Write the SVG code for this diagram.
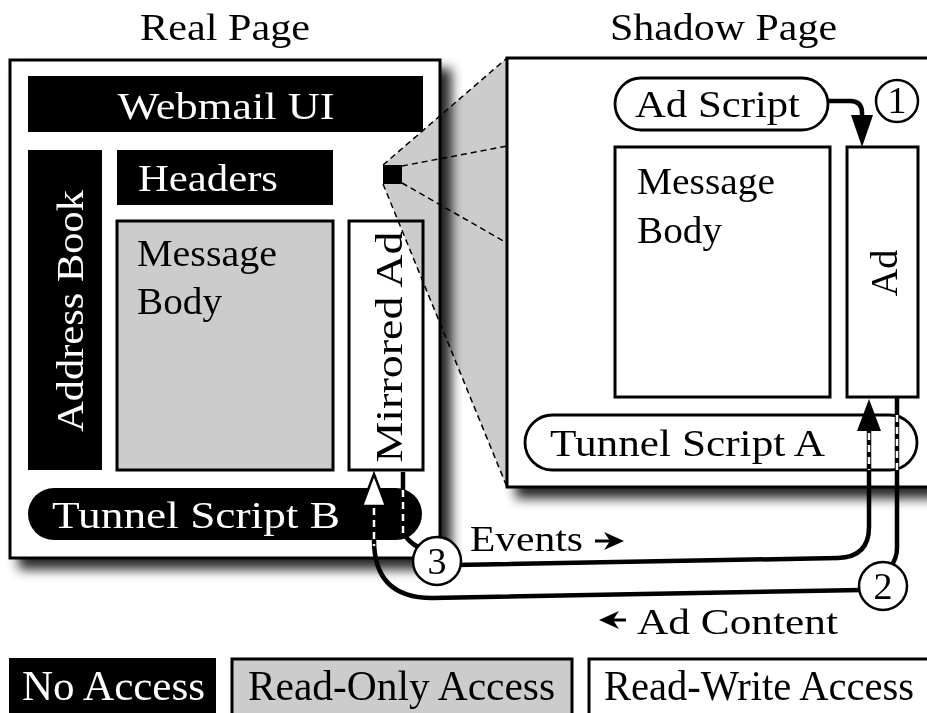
<svg xmlns="http://www.w3.org/2000/svg" width="927" height="713" viewBox="0 0 927 713">
<defs>
<style>
text { font-family: "Liberation Serif", "Times New Roman", serif; fill: #000; }
.lbl { font-size: 38px; }
.t { font-size: 38px; }
.wt { fill: #fff; }
.blk { fill: #000; }
.gry { fill: #cccccc; stroke: #000; stroke-width: 3; }
.wht { fill: #fff; stroke: #000; stroke-width: 3; }
.pill { fill: #fff; stroke: #000; stroke-width: 2.8; }
.conn { fill: none; stroke: #000; stroke-width: 4.5; }
.dash { fill: none; stroke: #fff; stroke-width: 2.5; stroke-dasharray: 7 5; }
.cone { fill: none; stroke: #000; stroke-width: 1.5; stroke-dasharray: 6 4; }
.num { font-size: 38px; text-anchor: middle; }
.circ { fill: #fff; stroke: #000; stroke-width: 2.5; }
.leg { font-size: 43px; }
.small { font-size: 36px; }
</style>
<filter id="sh" x="-5%" y="-5%" width="120%" height="120%">
<feGaussianBlur in="SourceAlpha" stdDeviation="6"/>
<feOffset dx="10" dy="10"/>
<feComponentTransfer><feFuncA type="linear" slope="0.85"/></feComponentTransfer>
<feMerge><feMergeNode/><feMergeNode in="SourceGraphic"/></feMerge>
</filter>
</defs>
<rect x="0" y="0" width="927" height="713" fill="#fff"/>

<text class="t" x="140" y="40" textLength="170" lengthAdjust="spacingAndGlyphs">Real Page</text>
<text class="t" x="610" y="40" textLength="227" lengthAdjust="spacingAndGlyphs">Shadow Page</text>

<g id="shadow-page">
<rect class="wht" x="507" y="58" width="440" height="429" filter="url(#sh)"/>
</g>
<g id="ad-script">
<rect class="pill" x="615" y="78" width="213" height="52" rx="26"/>
<text class="lbl" x="635" y="117" textLength="165" lengthAdjust="spacingAndGlyphs">Ad Script</text>
</g>
<g id="shadow-message-body">
<rect class="wht" x="615" y="147" width="215" height="250"/>
<text class="lbl" x="637" y="194" textLength="138" lengthAdjust="spacingAndGlyphs">Message</text>
<text class="lbl" x="637" y="243" textLength="85" lengthAdjust="spacingAndGlyphs">Body</text>
</g>
<g id="ad">
<rect class="wht" x="847" y="147" width="71" height="250"/>
<text class="lbl" transform="translate(897,273) rotate(-90)" text-anchor="middle">Ad</text>
</g>
<g id="tunnel-script-a">
<rect class="pill" x="525" y="415" width="392" height="55" rx="27.5"/>
<text class="lbl" x="550" y="456" textLength="275" lengthAdjust="spacingAndGlyphs">Tunnel Script A</text>
</g>

<g id="real-page">
<rect class="wht" x="10" y="60" width="430" height="498" filter="url(#sh)"/>
</g>
<g id="webmail-ui">
<rect class="blk" x="28" y="76" width="395" height="56"/>
<text class="lbl wt" x="226" y="119" text-anchor="middle" textLength="217" lengthAdjust="spacingAndGlyphs">Webmail UI</text>
</g>
<g id="address-book">
<rect class="blk" x="28" y="150" width="74" height="320"/>
<text class="lbl wt" transform="translate(83,311) rotate(-90)" text-anchor="middle" textLength="242" lengthAdjust="spacingAndGlyphs">Address Book</text>
</g>
<g id="headers">
<rect class="blk" x="117" y="150" width="216" height="55"/>
<text class="lbl wt" x="138" y="191" textLength="140" lengthAdjust="spacingAndGlyphs">Headers</text>
</g>
<g id="real-message-body">
<rect class="gry" x="117" y="221" width="216" height="249"/>
<text class="lbl" x="137" y="266" textLength="140" lengthAdjust="spacingAndGlyphs">Message</text>
<text class="lbl" x="137" y="314" textLength="85" lengthAdjust="spacingAndGlyphs">Body</text>
</g>
<g id="mirrored-ad">
<rect class="wht" x="349" y="221" width="74" height="249"/>
<text class="lbl" transform="translate(402,347) rotate(-90)" text-anchor="middle" textLength="231" lengthAdjust="spacingAndGlyphs">Mirrored Ad</text>
</g>
<g id="tunnel-script-b">
<rect class="blk" x="28" y="488" width="394" height="52" rx="26"/>
<text class="lbl wt" x="52" y="528" textLength="288" lengthAdjust="spacingAndGlyphs">Tunnel Script B</text>
</g>

<g id="zoom-cone">
<polygon points="383,165 507,58 507,487 383,184" fill="#cccccc" style="mix-blend-mode:multiply"/>
<path class="cone" d="M383 165 L507 58 M383 184 L507 487 M402 166 L507 146 M402 183 L507 243"/>
<rect class="blk" x="383" y="165" width="19" height="19"/>
</g>

<g id="connectors">
<path class="conn" d="M828 101 L850 101 Q862 101 862 113 L862 120"/>
<polygon points="862,147 851,115 873,115" fill="#000"/>
<path class="conn" d="M403 472 L403 528 Q404 540 420 548"/>
<path class="conn" d="M455 565 L838 558 Q869 557 869 527 L869 428"/>
<polygon points="869,399 857,431 881,431" fill="#000"/>
<path class="conn" d="M897 397 L897 548 Q897 558 891 566"/>
<path class="conn" d="M862 590 L432 598 Q374 598 374 540 L374 503"/>
<polygon points="374,474 362,506 386,506" fill="#fff" stroke="#000" stroke-width="2.5"/>
<path class="dash" d="M374 508 L374 546"/>
<path class="dash" d="M403 490 L403 538"/>
<path class="dash" d="M869 433 L869 470"/>
<path class="dash" d="M897 415 L897 470"/>
<path d="M595 541 L612 541" stroke="#000" stroke-width="3"/>
<polygon points="624,541 604,532 610,541 604,550" fill="#000"/>
<path d="M626 620 L610 620" stroke="#000" stroke-width="3"/>
<polygon points="599,620 619,611 613,620 619,629" fill="#000"/>
</g>

<g id="step-1">
<circle class="circ" cx="897" cy="101" r="21"/>
<text class="num" x="897" y="113">1</text>
</g>
<g id="step-2">
<circle class="circ" cx="883" cy="586" r="24"/>
<text class="num" x="883" y="599">2</text>
</g>
<g id="step-3">
<circle class="circ" cx="437" cy="561" r="24"/>
<text class="num" x="437" y="574">3</text>
</g>

<text class="small" x="470" y="551" textLength="113" lengthAdjust="spacingAndGlyphs">Events</text>
<text class="small" x="637" y="634" textLength="201" lengthAdjust="spacingAndGlyphs">Ad Content</text>

<g id="legend-no-access">
<rect class="blk" x="9" y="658" width="207" height="70"/>
<text class="leg wt" x="22" y="700" textLength="183" lengthAdjust="spacingAndGlyphs">No Access</text>
</g>
<g id="legend-read-only">
<rect class="gry" x="232" y="659" width="340" height="70"/>
<text class="leg" x="248" y="700" textLength="307" lengthAdjust="spacingAndGlyphs">Read-Only Access</text>
</g>
<g id="legend-read-write">
<rect class="wht" x="589" y="659" width="350" height="70"/>
<text class="leg" x="604" y="700" textLength="310" lengthAdjust="spacingAndGlyphs">Read-Write Access</text>
</g>
</svg>
